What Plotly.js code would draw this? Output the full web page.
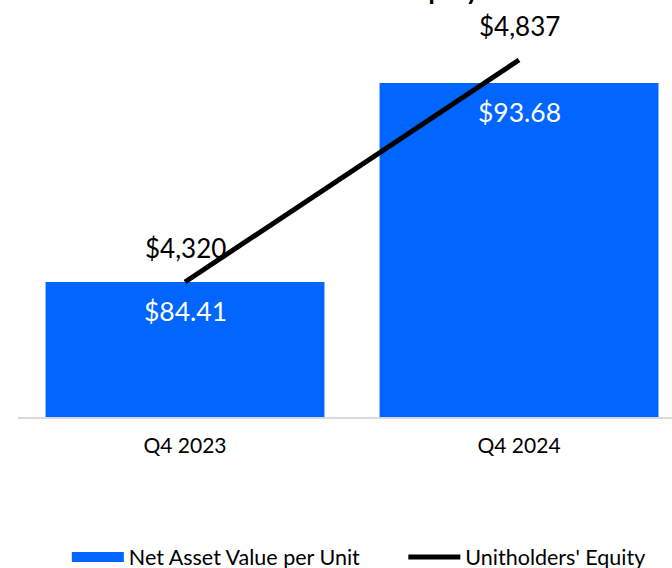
<!DOCTYPE html>
<html>
<head>
<meta charset="utf-8">
<script src="https://cdn.plot.ly/plotly-3.0.1.min.js"></script>
<style>html,body{margin:0;padding:0;background:#fff;}#chart{width:672px;height:568px;}</style>
</head>
<body>
<div id="chart"></div>
<script>
const categories = ["Q4 2023", "Q4 2024"];
const navPerUnit = [84.41, 93.68];
const navLabels = ["$84.41", "$93.68"];
const equity = [4320, 4837];
const equityLabels = ["$4,320", "$4,837"];
const seriesNames = ["Net Asset Value per Unit", "Unitholders' Equity"];

const legendPad = "\u00A0".repeat(7);

const traces = [
  {
    type: "bar", name: seriesNames[0], showlegend: false,
    x: categories, y: navPerUnit,
    marker: {color: "#0066ff"},
    hoverinfo: "none"
  },
  {
    // legend swatch for the bar series (wide rectangle), draws no visible data
    type: "scatter", mode: "lines", name: seriesNames[0] + legendPad, showlegend: true,
    x: [categories[0]], y: [null],
    line: {color: "#0066ff", width: 13},
    hoverinfo: "none"
  },
  {
    type: "scatter", mode: "lines", name: seriesNames[1],
    x: categories, y: equity, yaxis: "y2",
    line: {color: "#000000", width: 5},
    hoverinfo: "none"
  }
];

const annotations = [];
categories.forEach((c, i) => {
  annotations.push({x: c, y: navPerUnit[i], xref: "x", yref: "y", text: navLabels[i],
    showarrow: false, yanchor: "middle", yshift: -29,
    font: {family: "Lato", size: 26.5, color: "#ffffff"}});
  annotations.push({x: c, y: equity[i], xref: "x", yref: "y2", text: equityLabels[i],
    showarrow: false, yanchor: "middle", yshift: 34,
    font: {family: "Lato", size: 26, color: "#000000"}});
});
annotations.push({x: 0.7095, y: 1.0849, xref: "paper", yref: "paper", xanchor: "right", yanchor: "bottom",
  text: "<b>Unitholders' Equity</b>", showarrow: false,
  font: {family: "Lato", size: 26, color: "#000000"}});

const layout = {
  width: 672, height: 568,
  margin: {l: 18, r: 0, t: 40, b: 151},
  paper_bgcolor: "#ffffff", plot_bgcolor: "#ffffff",
  bargap: 0.165,
  showlegend: true,
  legend: {orientation: "h", x: 0.534, xanchor: "center", xref: "container",
    y: 0.0194, yanchor: "middle", yref: "container",
    itemwidth: 52,
    font: {family: "Lato", size: 21.5, color: "#000000"}, traceorder: "normal"},
  xaxis: {type: "category", range: [-0.5, 1.458], showline: true, linecolor: "#d9d9d9", linewidth: 2,
    showgrid: false, zeroline: false, ticks: "", ticklabelstandoff: 9,
    tickfont: {family: "Lato", size: 21, color: "#000000"}},
  yaxis: {range: [78.12, 95.68], visible: false, showgrid: false, zeroline: false},
  yaxis2: {range: [4005.6, 4883.6], overlaying: "y", side: "right", visible: false, showgrid: false, zeroline: false},
  annotations: annotations
};

Plotly.newPlot("chart", traces, layout, {staticPlot: true, displayModeBar: false});
</script>
</body>
</html>
